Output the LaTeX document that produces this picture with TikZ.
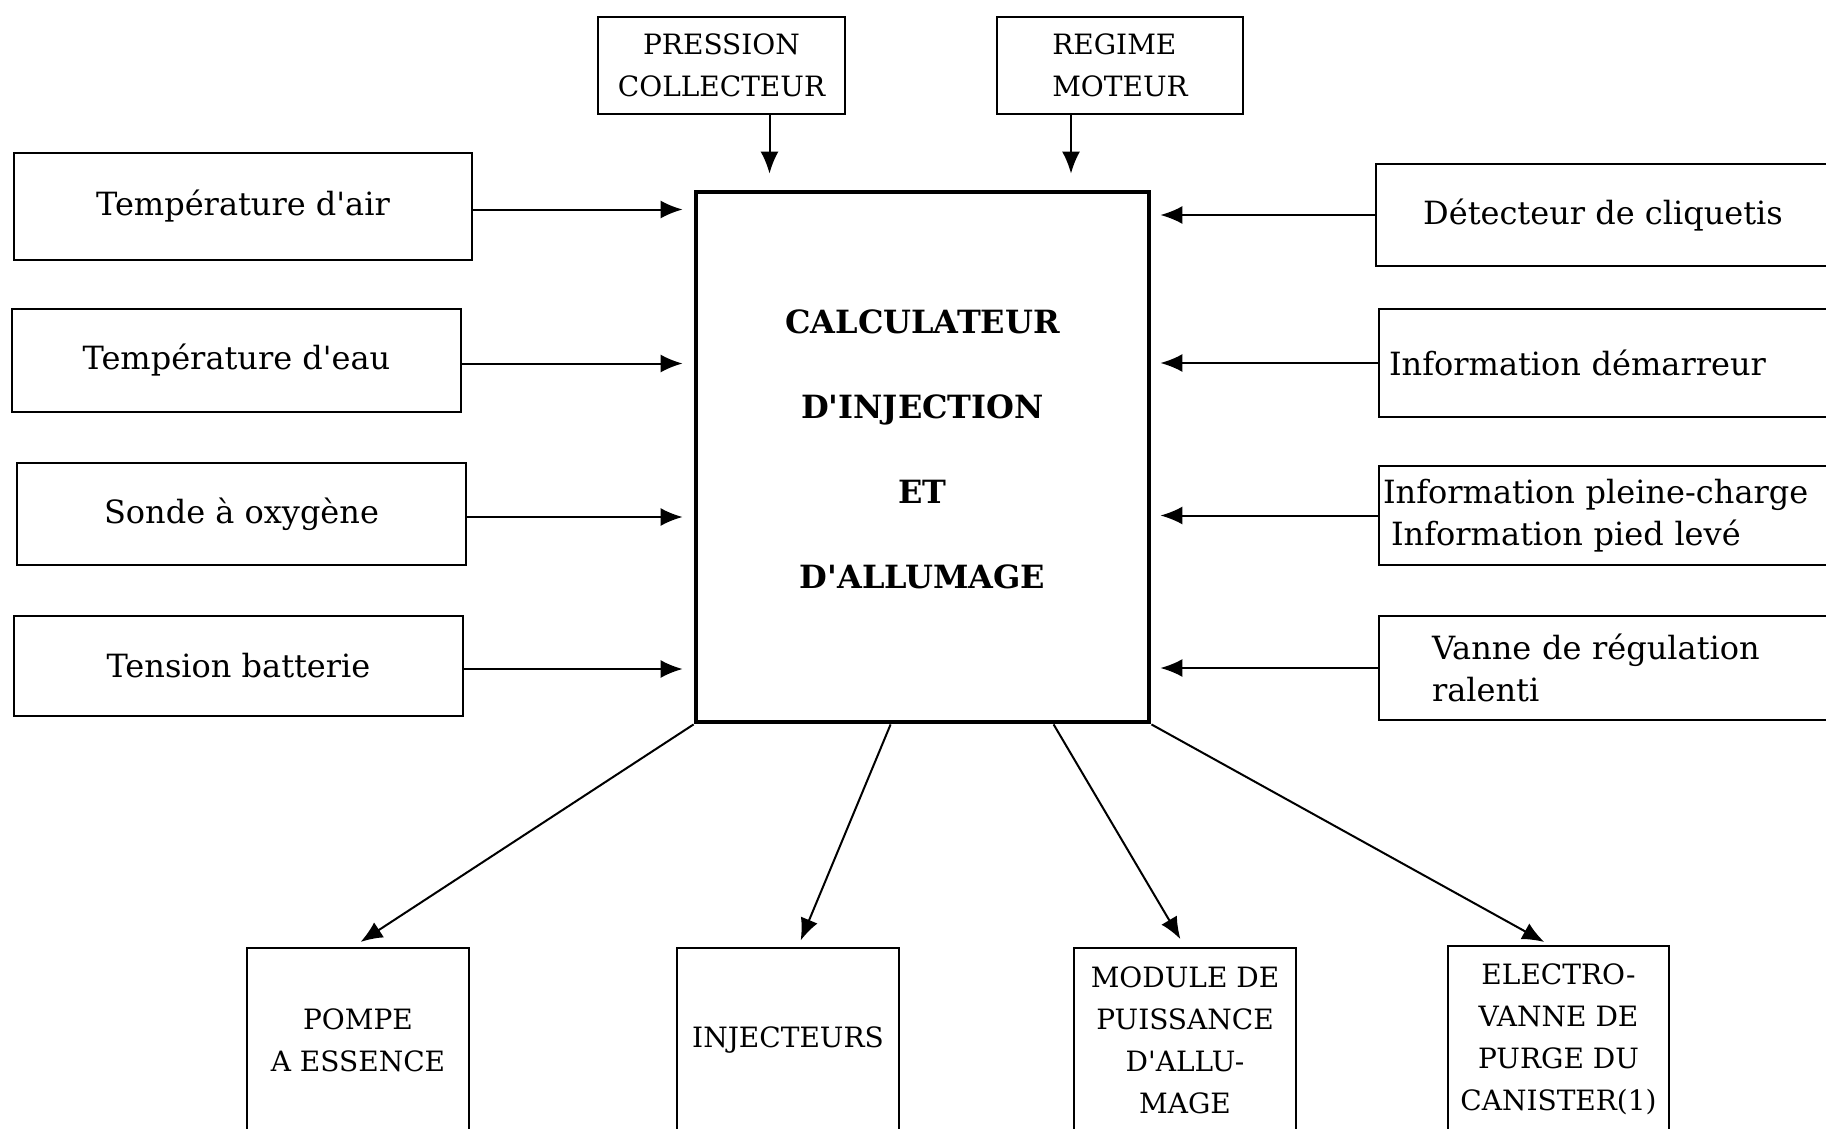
\documentclass[tikz,border=0pt]{standalone}
\usepackage{fontspec}
\setmainfont{DejaVu Serif}
\usetikzlibrary{arrows.meta}
\newcommand{\ap}{\textquotesingle}
\begin{document}
\begin{tikzpicture}[x=1pt,y=-1pt,
  box/.style={draw,line width=2.2pt,inner sep=0pt,font=\fontsize{32}{42}\selectfont,align=center},
  capbox/.style={box,font=\fontsize{28}{42}\selectfont},
  sig/.style={line width=2pt,-{Latex[length=22pt,width=18pt]}}]
\clip (0,0) rectangle (1826,1129);
% calculateur
\node[draw,line width=4.8pt,minimum width=453pt,minimum height=530pt,align=center,
  font=\fontsize{32}{85}\selectfont\bfseries] (calc) at (922.5,457)
  {CALCULATEUR\\D\ap INJECTION\\ET\\D\ap ALLUMAGE\\[-70pt]\mbox{}};
% capteurs du haut
\node[capbox,minimum width=247pt,minimum height=97pt] (presscol) at (721.5,65.5) {PRESSION\\COLLECTEUR};
\node[capbox,align=left,minimum width=246pt,minimum height=97pt] (regime) at (1120,65.5) {REGIME\\MOTEUR};
% capteurs a gauche
\node[box,minimum width=458pt,minimum height=107pt] (tair) at (243,206.5) {Température d\ap air};
\node[box,minimum width=449pt,minimum height=103pt] (teau) at (236.5,360.5) {Température d\ap eau};
\node[box,minimum width=449pt,minimum height=102pt] (sonde) at (241.5,514) {Sonde à oxygène};
\node[box,minimum width=449pt,minimum height=100pt] (tension) at (238.5,666) {Tension batterie};
% capteurs a droite
\node[box,minimum width=454pt,minimum height=102pt] (detect) at (1603,215) {Détecteur de cliquetis};
\node[box,align=left,inner xsep=10pt,text width=431pt,minimum height=108pt] (demarr) at (1604.5,363) {Information démarreur};
\node[box,align=left,inner xsep=4pt,text width=443pt,minimum height=99pt] (pleine) at (1604.5,515.5)
  {Information pleine-charge\\\hspace*{8pt}Information pied levé};
\node[box,align=left,inner xsep=53pt,text width=345pt,minimum height=104pt] (vanne) at (1604.5,668)
  {Vanne de régulation\\ralenti};
% actionneurs
\node[capbox,minimum width=222pt,minimum height=184pt] (pompe) at (358,1040) {POMPE\\A ESSENCE};
\node[capbox,minimum width=222pt,minimum height=184pt] (inject) at (788,1040) {INJECTEURS};
\node[capbox,minimum width=222pt,minimum height=184pt] (module) at (1185,1040) {MODULE DE\\PUISSANCE\\D\ap ALLU-\\MAGE};
\node[capbox,minimum width=221pt,minimum height=186pt] (electro) at (1558.5,1039) {ELECTRO-\\VANNE DE\\PURGE DU\\CANISTER(1)};
% liaisons
\coordinate (pc) at ([xshift=48pt]presscol.south);
\coordinate (rm) at ([xshift=-49pt]regime.south);
\draw[sig,shorten >=16pt] (pc) -- (pc |- calc.north);
\draw[sig,shorten >=16pt] (rm) -- (rm |- calc.north);
\foreach \n in {tair,teau,sonde,tension}
  \draw[sig,shorten >=11pt] ([yshift=-3pt]\n.east) -- ([yshift=-3pt]\n.east -| calc.west);
\foreach \n in {detect,demarr,pleine,vanne}
  \draw[sig,shorten >=9pt] (\n.west) -- (\n.west -| calc.east);
\draw[sig,shorten >=9pt] (calc.south west) -- ([xshift=-5pt]pompe.north);
\draw[sig,shorten >=7pt] ([xshift=197pt]calc.south west) -- ([xshift=10pt]inject.north);
\draw[sig,shorten >=9pt] ([xshift=360pt]calc.south west) -- (module.north);
\draw[sig,shorten >=6pt] (calc.south east) -- ([xshift=-9pt]electro.north);
\end{tikzpicture}
\end{document}
